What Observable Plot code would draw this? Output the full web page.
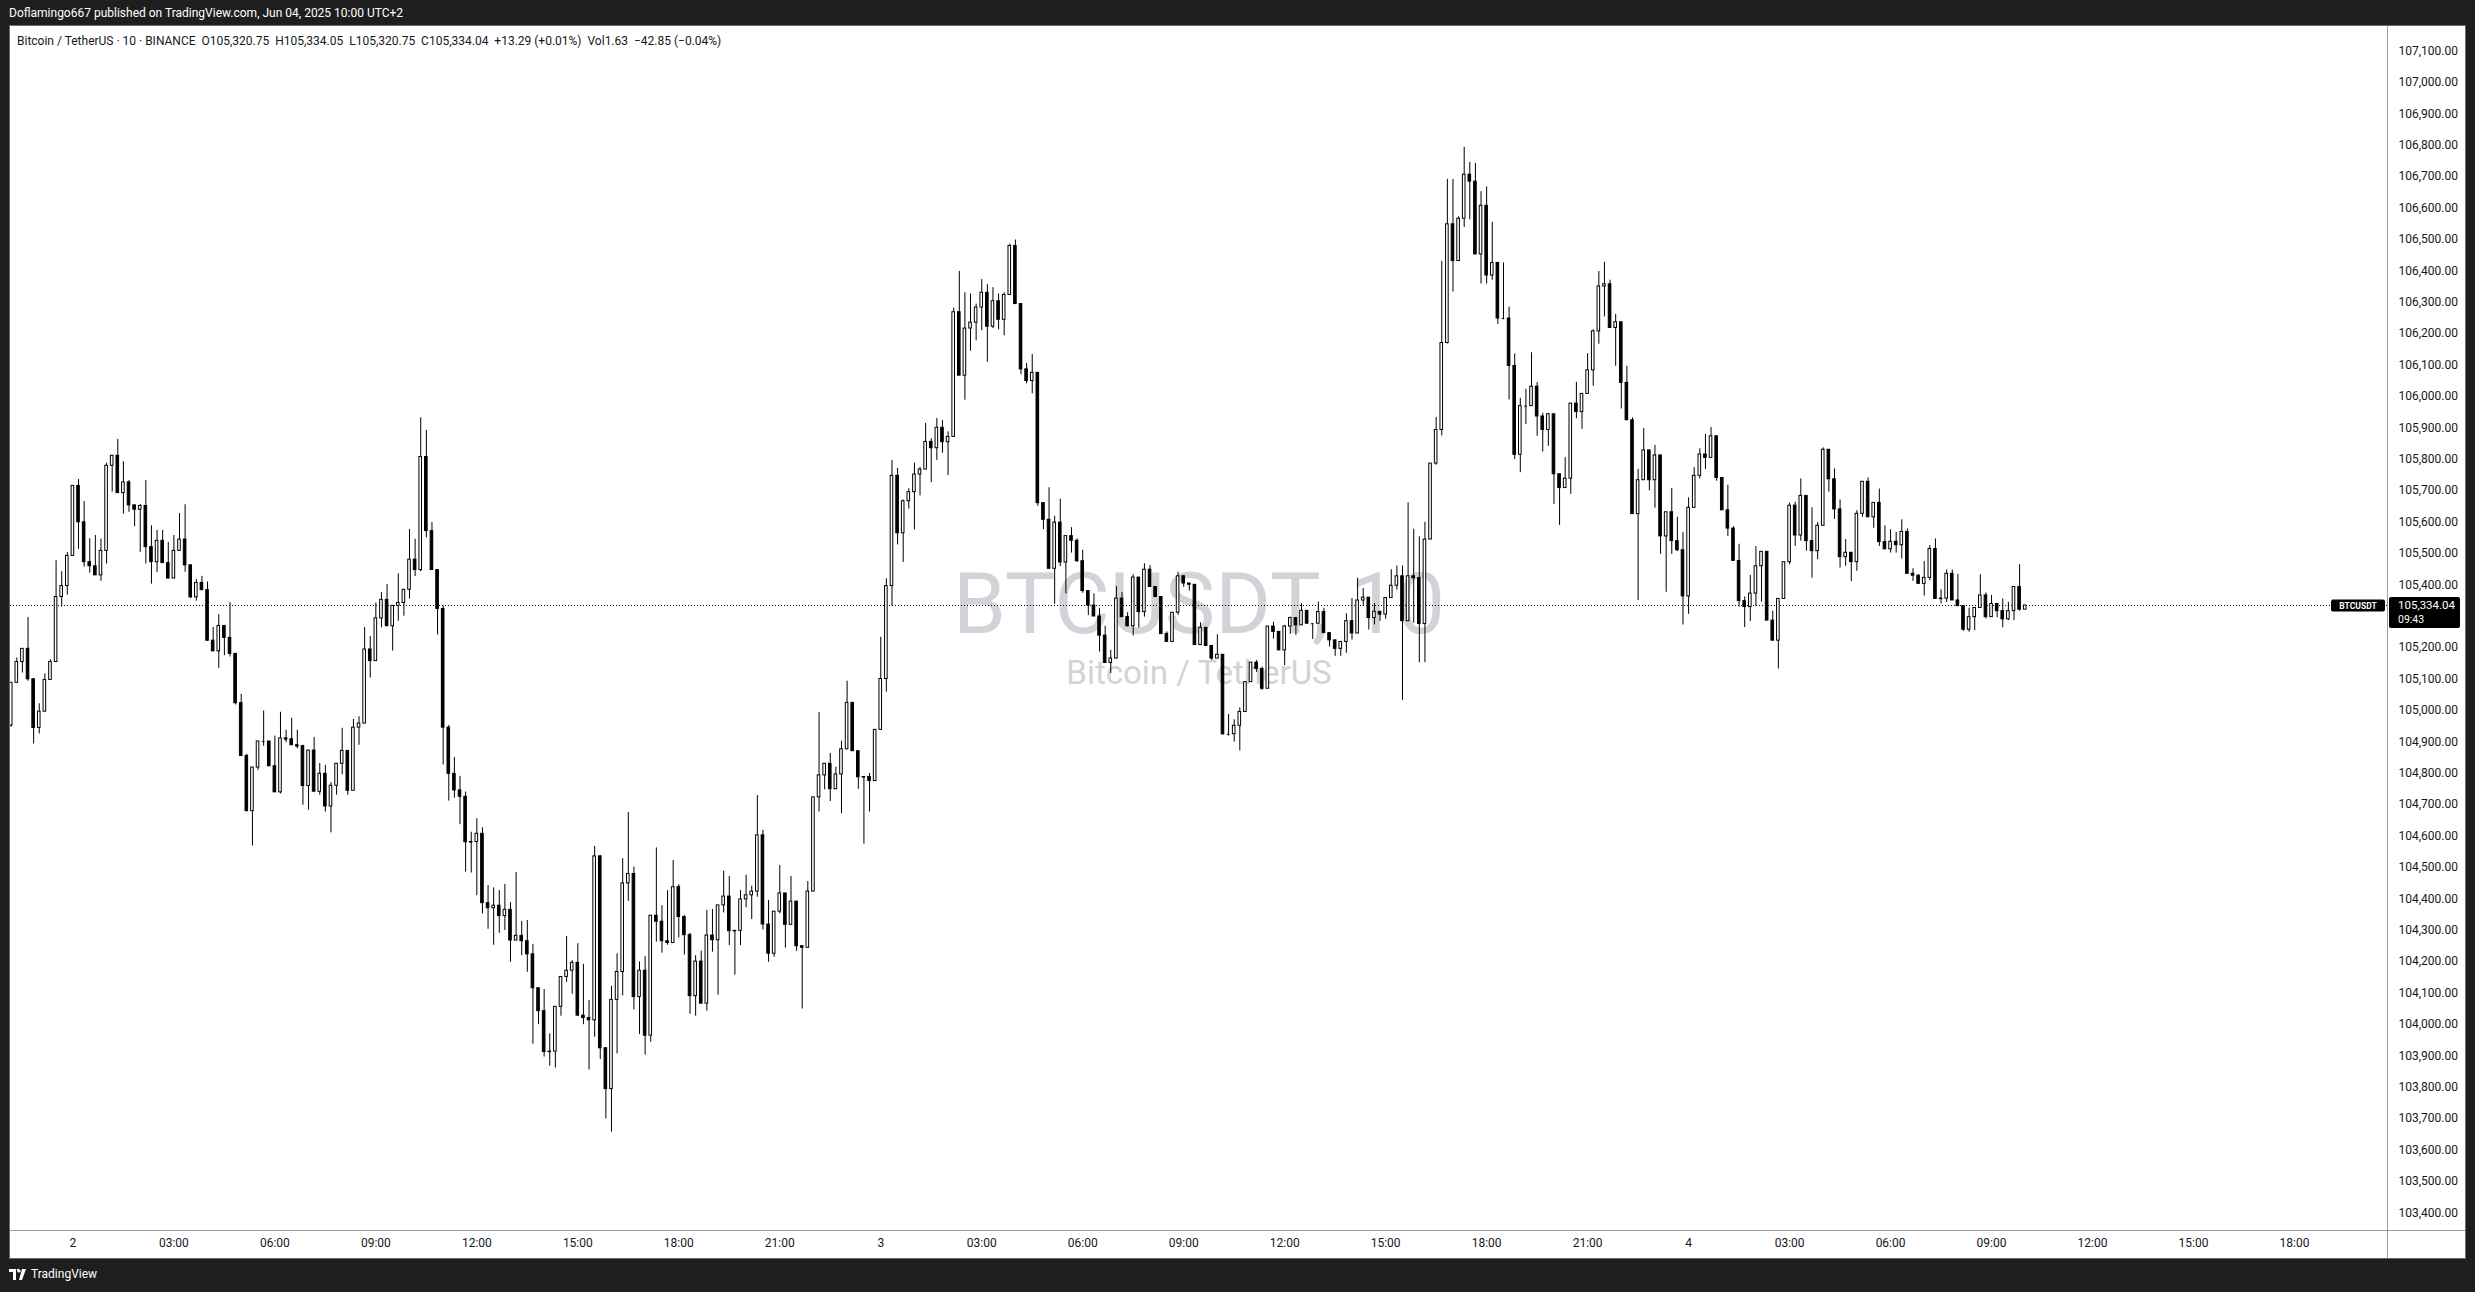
<!DOCTYPE html>
<html><head><meta charset="utf-8">
<script src="https://cdn.jsdelivr.net/npm/d3@7"></script>
<script src="https://cdn.jsdelivr.net/npm/@observablehq/plot@0.6"></script>
<style>
html,body{margin:0;padding:0;background:#1e1e1e;}
#page{position:relative;width:2475px;height:1292px;background:#1e1e1e;overflow:hidden;font-family:Roboto,"Liberation Sans",sans-serif;}
#top{position:absolute;left:9px;top:6px;color:#ffffff;font-size:12px;white-space:pre;}
#panel{position:absolute;left:10px;top:26px;width:2455px;height:1232px;background:#fff;outline:1px solid #6b6b6b;}
#legend{position:absolute;left:7px;top:8px;color:#131722;font-size:12px;white-space:pre;z-index:2;}
#foot{position:absolute;left:9px;top:1267px;color:#fff;font-size:12px;display:flex;align-items:center;gap:4px;}
</style></head>
<body>
<div id="page">
  <div id="top">Doflamingo667 published on TradingView.com, Jun 04, 2025 10:00 UTC+2</div>
  <div id="panel"><div id="legend">Bitcoin / TetherUS · 10 · BINANCE  O105,320.75  H105,334.05  L105,320.75  C105,334.04  +13.29 (+0.01%)  Vol1.63  −42.85 (−0.04%)</div></div>
  <div id="foot"><svg width="18" height="11" viewBox="0 0 18 11"><path d="M0 0h7v11H4V3H0z M7.5 0h3l-1.5 3z" fill="#fff"/><circle cx="10" cy="2" r="1.6" fill="#fff"/><path d="M13 0h4l-4 11h-3z" fill="#fff"/></svg><span>TradingView</span></div>
</div>
<script>
// ---- data (BTCUSDT 10-minute candles, first candle 2025-06-01 22:10 UTC+2) ----
const firstCandle = "2025-06-01T22:10:00Z";
const open = [
104952,105088,105154,105196,105099,104944,104996,105097,105154,105361,
105396,105492,105715,105599,105472,105459,105430,105508,105779,105811,
105692,105726,105653,105639,105651,105520,105472,105540,105469,105420,
105508,105544,105462,105360,105406,105383,105222,105188,105269,105231,
105180,105023,104855,104679,104818,104901,104901,104822,104739,104911,
104908,104889,104886,104759,104872,104741,104798,104694,104760,104830,
104871,104744,104945,104958,105194,105157,105293,105352,105268,105333,
105342,105384,105480,105447,105807,105571,105447,105323,104945,104798,
104745,104725,104580,104581,104607,104386,104370,104378,104345,104365,
104267,104282,104265,104223,104115,104042,103912,103913,104056,104151,
104171,104196,104028,104020,104013,104535,103924,103794,104078,104167,
104449,104479,104087,104171,103964,104346,104327,104265,104259,104437,
104342,104284,104090,104200,104066,104283,104268,104379,104407,104297,
104298,104398,104411,104423,104602,104318,104225,104359,104417,104317,
104391,104249,104244,104423,104723,104793,104830,104749,104796,104876,
105024,104870,104787,104788,104775,104938,105100,105396,105747,105564,
105666,105695,105751,105767,105855,105835,105900,105854,105871,106268,
106066,106216,106235,106283,106330,106222,106303,106244,106323,106479,
106294,106086,106049,106075,105660,105607,105451,105598,105471,105555,
105540,105475,105380,105334,105299,105238,105151,105165,105356,105297,
105268,105423,105313,105448,105393,105361,105243,105218,105311,105427,
105404,105400,105208,105263,105205,105165,105177,104924,104924,104951,
104995,105090,105152,105132,105069,105267,105250,105191,105267,105294,
105271,105317,105276,105276,105313,105246,105223,105196,105218,105284,
105245,105350,105359,105294,105314,105305,105358,105397,105427,105284,
105427,105421,105275,105544,105786,105893,106170,106548,106431,106566,
106706,106684,106452,106607,106385,106425,106248,106248,106097,105814,
105969,105969,106031,105936,105893,105943,105752,105708,105738,105977,
105950,106008,106083,106207,106350,106357,106218,106236,106043,105924,
105625,105733,105828,105733,105812,105554,105631,105539,105510,105363,
105645,105747,105815,105804,105873,105740,105637,105579,105476,105348,
105329,105372,105459,105505,105286,105222,105355,105472,105652,105557,
105683,105539,105507,105588,105830,105736,105640,105488,105502,105472,
105626,105728,105615,105661,105536,105513,105537,105526,105568,105435,
105429,105403,105422,105514,105355,105356,105435,105350,105332,105257,
105297,105326,105366,105297,105339,105316,105290,105316,105393,105320.75];
const high = [
105088,105167,105196,105296,105101,105021,105116,105161,105477,105442,
105503,105715,105735,105665,105547,105557,105545,105787,105811,105863,
105792,105732,105653,105656,105732,105588,105573,105573,105535,105557,
105627,105655,105462,105416,105427,105409,105264,105305,105269,105343,
105180,105051,104860,104818,104901,104998,104901,104918,104994,104937,
104975,104937,104889,104872,104914,104831,104825,104770,104830,104943,
104871,104971,104980,105264,105235,105342,105375,105401,105333,105435,
105384,105576,105545,105932,105892,105598,105447,105333,104952,104850,
104790,104740,104612,104655,104626,104442,104435,104426,104446,104388,
104484,104328,104331,104254,104116,104111,103970,104056,104151,104280,
104203,104257,104191,104076,104567,104538,103926,104121,104225,104528,
104675,104501,104199,104216,104346,104562,104378,104426,104522,104445,
104347,104290,104219,104233,104363,104366,104379,104488,104471,104298,
104426,104475,104440,104729,104618,104395,104359,104506,104417,104471,
104391,104249,104455,104723,104993,104830,104863,104819,104902,105093,
105024,104870,104788,104799,104938,105233,105419,105796,105771,105670,
105706,105787,105774,105914,105865,105930,105923,105887,106281,106398,
106330,106326,106294,106372,106356,106346,106326,106330,106485,106498,
106294,106105,106134,106075,105660,105709,105618,105673,105555,105582,
105546,105510,105380,105371,105325,105268,105191,105395,105375,105311,
105432,105423,105467,105461,105393,105361,105250,105311,105440,105430,
105404,105400,105279,105263,105205,105241,105177,104987,104970,105008,
105090,105152,105159,105138,105267,105281,105250,105271,105297,105294,
105340,105317,105276,105345,105325,105246,105224,105218,105308,105356,
105421,105388,105359,105340,105314,105358,105448,105460,105460,105661,
105577,105553,105599,105786,105933,106430,106691,106691,106572,106793,
106745,106742,106652,106667,106554,106425,106425,106284,106135,105994,
106023,106139,106044,105946,105946,105943,105752,105805,105977,106045,
106008,106136,106212,106398,106427,106370,106261,106236,106096,105932,
105768,105898,105828,105844,105812,105631,105707,105615,105566,105677,
105773,105833,105879,105901,105873,105740,105717,105585,105529,105361,
105430,105522,105505,105505,105316,105355,105472,105660,105663,105737,
105683,105645,105598,105836,105830,105769,105670,105544,105502,105636,
105728,105740,105661,105705,105588,105575,105567,105607,105578,105451,
105432,105474,105525,105546,105384,105447,105447,105433,105332,105326,
105326,105432,105374,105366,105339,105355,105344,105393,105464,105334.05];
const low = [
104946,105088,105119,105093,104893,104925,104996,105097,105154,105329,
105367,105492,105513,105456,105437,105430,105411,105466,105695,105692,
105625,105631,105585,105503,105466,105402,105439,105469,105418,105420,
105508,105440,105356,105348,105383,105220,105188,105134,105174,105170,
105017,104853,104679,104568,104809,104886,104822,104739,104734,104897,
104889,104878,104698,104682,104741,104730,104676,104610,104730,104795,
104730,104744,104889,104958,105103,105157,105263,105268,105189,105284,
105300,105355,105426,105442,105550,105447,105240,104826,104711,104720,
104636,104485,104482,104410,104352,104303,104252,104290,104299,104198,
104267,104219,104166,103937,103999,103896,103867,103861,104026,104134,
104096,104025,103999,103855,103959,103888,103699,103657,103906,104091,
104392,104046,103968,103902,103943,104262,104227,104252,104259,104275,
104221,104032,104026,104066,104042,104230,104093,104355,104251,104157,
104251,104371,104334,104405,104301,104198,104214,104352,104243,104317,
104233,104049,104244,104423,104676,104747,104710,104749,104671,104876,
104870,104749,104574,104676,104775,104938,105058,105331,105527,105471,
105641,105575,105683,105767,105725,105796,105819,105748,105871,106066,
105988,106144,106177,106209,106109,106216,106212,106193,106323,106294,
106069,106040,106008,105650,105576,105451,105338,105458,105371,105501,
105471,105373,105302,105299,105186,105151,105117,105165,105297,105266,
105237,105262,105297,105393,105361,105243,105218,105218,105303,105392,
105380,105208,105208,105205,105159,105165,104921,104918,104899,104871,
104995,105090,105121,105064,105069,105227,105191,105143,105242,105239,
105271,105276,105226,105276,105246,105202,105172,105172,105182,105224,
105245,105332,105256,105272,105284,105290,105358,105383,105032,105284,
105278,105152,105152,105544,105781,105874,106167,106332,106431,106538,
106562,106452,106358,106358,106370,106229,106244,105989,105799,105757,
105910,105969,105873,105823,105841,105656,105589,105708,105688,105929,
105895,106008,106032,106166,106253,106218,106096,105960,105924,105625,
105350,105733,105699,105644,105497,105376,105497,105506,105272,105306,
105645,105737,105767,105804,105730,105637,105554,105476,105329,105264,
105283,105331,105345,105286,105222,105132,105355,105464,105522,105539,
105507,105421,105480,105588,105695,105608,105453,105459,105410,105443,
105615,105615,105580,105522,105513,105501,105501,105482,105435,105411,
105403,105364,105413,105355,105339,105344,105350,105332,105252,105249,
105254,105326,105291,105297,105295,105263,105286,105286,105316,105320.75];
const close = [
105088,105154,105196,105099,104944,104996,105097,105154,105361,105396,
105492,105715,105599,105472,105459,105430,105508,105779,105811,105692,
105726,105653,105639,105651,105520,105472,105540,105469,105420,105508,
105544,105462,105360,105406,105383,105222,105188,105269,105231,105180,
105023,104855,104679,104818,104901,104901,104822,104739,104911,104908,
104889,104886,104759,104872,104741,104798,104694,104760,104830,104871,
104744,104945,104958,105194,105157,105293,105352,105268,105333,105342,
105384,105480,105447,105807,105571,105447,105323,104945,104798,104745,
104725,104580,104581,104607,104386,104370,104378,104345,104365,104267,
104282,104265,104223,104115,104042,103912,103913,104056,104151,104171,
104196,104028,104020,104013,104535,103924,103794,104078,104167,104449,
104479,104087,104171,103964,104346,104327,104265,104259,104437,104342,
104284,104090,104200,104066,104283,104268,104379,104407,104297,104298,
104398,104411,104423,104602,104318,104225,104359,104417,104317,104391,
104249,104244,104423,104723,104793,104830,104749,104796,104876,105024,
104870,104787,104788,104775,104938,105100,105396,105747,105564,105666,
105695,105751,105767,105855,105835,105900,105854,105871,106268,106066,
106216,106235,106283,106330,106222,106303,106244,106323,106479,106294,
106086,106049,106075,105660,105607,105451,105598,105471,105555,105540,
105475,105380,105334,105299,105238,105151,105165,105356,105297,105268,
105423,105313,105448,105393,105361,105243,105218,105311,105427,105404,
105400,105208,105263,105205,105165,105177,104924,104924,104951,104995,
105090,105152,105132,105069,105267,105250,105191,105267,105294,105271,
105317,105276,105276,105313,105246,105223,105196,105218,105284,105245,
105350,105359,105294,105314,105305,105358,105397,105427,105284,105427,
105421,105275,105544,105786,105893,106170,106548,106431,106566,106706,
106684,106452,106607,106385,106425,106248,106248,106097,105814,105969,
105969,106031,105936,105893,105943,105752,105708,105738,105977,105950,
106008,106083,106207,106350,106357,106218,106236,106043,105924,105625,
105733,105828,105733,105812,105554,105631,105539,105510,105363,105645,
105747,105815,105804,105873,105740,105637,105579,105476,105348,105329,
105372,105459,105505,105286,105222,105355,105472,105652,105557,105683,
105539,105507,105588,105830,105736,105640,105488,105502,105472,105626,
105728,105615,105661,105536,105513,105537,105526,105568,105435,105429,
105403,105422,105514,105355,105356,105435,105350,105332,105257,105297,
105326,105366,105297,105339,105316,105290,105316,105393,105320.75,105334.04];
const lastPrice = 105334.04;
const countdown = "09:43";
const symbolName = "BTCUSDT";
// 105,300.00 is hidden behind the last-price label in the reference
const priceTicks = [103400,103500,103600,103700,103800,103900,104000,104100,104200,104300,104400,104500,104600,104700,104800,104900,105000,105100,105200,105400,105500,105600,105700,105800,105900,106000,106100,106200,106300,106400,106500,106600,106700,106800,106900,107000,107100];
const timeTickLabels = ["2","03:00","06:00","09:00","12:00","15:00","18:00","21:00","3","03:00","06:00","09:00","12:00","15:00","18:00","21:00","4","03:00","06:00","09:00","12:00","15:00","18:00"];
const watermark = ["BTCUSDT, 10", "Bitcoin / TetherUS"];

// ---- build ----
const STEP = 10 * 60 * 1000;
const t0 = new Date(firstCandle).getTime();
const candles = open.map((o, i) => ({t: new Date(t0 + i * STEP), o, h: high[i], l: low[i], c: close[i]}));
const up = candles.filter(d => d.c >= d.o);
const down = candles.filter(d => d.c < d.o);
const doji = candles.filter(d => Math.abs(d.c - d.o) < 4);
const HW = 139000; // half body width in ms
const x1 = d => new Date(+d.t - HW), x2 = d => new Date(+d.t + HW);

const tickTimes = d3.utcHour.every(3).range(new Date("2025-06-02T00:00:00Z"), new Date("2025-06-04T18:00:01Z"));
const tickLabelMap = new Map(tickTimes.map((t, i) => [+t, timeTickLabels[i]]));

const W = 2455, H = 1232, MR = 78, MB = 28;
const plot = Plot.plot({
  width: W, height: H,
  marginLeft: 0, marginRight: MR, marginTop: 0, marginBottom: MB,
  style: {background: "transparent", fontFamily: "Roboto, 'Liberation Sans', sans-serif", fontSize: "12px"},
  x: {type: "utc", domain: [new Date("2025-06-01T22:08:45Z"), new Date("2025-06-04T20:45:48Z")]},
  y: {domain: [103343.6, 107178]},
  marks: [
    Plot.text([watermark[0]], {text: d => d, frameAnchor: "middle", dy: -23, fontSize: 85, fill: "#d1d3d8", fontFamily: "Roboto"}),
    Plot.text([watermark[1]], {text: d => d, frameAnchor: "middle", dy: 45, fontSize: 33, fill: "#d1d3d8", fontFamily: "Roboto"}),
    Plot.ruleY([lastPrice], {stroke: "#000", strokeWidth: 1, strokeDasharray: "1,2"}),
    Plot.ruleX(candles, {x: "t", y1: d => Math.min(d.l, d.o, d.c), y2: d => Math.max(d.h, d.o, d.c), stroke: "#000", strokeWidth: 1, clip: true}),
    Plot.rect(up, {x1, x2, y1: "o", y2: "c", fill: "#ffffff", stroke: "#000", strokeWidth: 1, clip: true}),
    Plot.rect(down, {x1, x2, y1: "o", y2: "c", fill: "#000000", stroke: "#000", strokeWidth: 1, clip: true}),
    Plot.ruleY(doji, {y: "c", x1, x2, stroke: "#000", strokeWidth: 1, clip: true}),
    Plot.axisY(priceTicks, {anchor: "right", tickSize: 0, tickPadding: 11, tickFormat: d3.format(",.2f"), label: null, color: "#131722", fontSize: 12}),
    Plot.axisX(tickTimes, {anchor: "bottom", tickSize: 0, tickPadding: 8, tickFormat: d => tickLabelMap.get(+d), label: null, color: "#131722", fontSize: 12})
  ]
});
document.getElementById("panel").appendChild(plot);

// frame lines of the price/time axes
const svg = d3.select(plot);
svg.append("line").attr("x1", 0).attr("x2", W).attr("y1", H - MB + 0.5).attr("y2", H - MB + 0.5).attr("stroke", "#9a9da6");
svg.append("line").attr("x1", W - MR + 0.5).attr("x2", W - MR + 0.5).attr("y1", 0).attr("y2", H).attr("stroke", "#9a9da6");

// last price labels (positioned through the plot's y scale)
const ys = plot.scale("y");
const yPx = ys.apply ? ys.apply(lastPrice) : d3.scaleLinear(ys.domain, ys.range)(lastPrice);
const g = svg.append("g").attr("font-family", "Roboto, sans-serif");
g.append("rect").attr("x", W - MR - 56).attr("y", yPx - 5.5).attr("width", 54).attr("height", 12).attr("rx", 2).attr("fill", "#000");
g.append("text").attr("x", W - MR - 29).attr("y", yPx + 0.5).attr("text-anchor", "middle").attr("dominant-baseline", "central")
  .attr("fill", "#fff").attr("font-size", 8.5).attr("font-weight", "bold").text(symbolName);
g.append("rect").attr("x", W - MR + 2).attr("y", yPx - 8).attr("width", 71).attr("height", 31).attr("rx", 2).attr("fill", "#000");
g.append("text").attr("x", W - MR + 11).attr("y", yPx).attr("text-anchor", "start").attr("dominant-baseline", "central").attr("fill", "#fff").attr("font-size", 11.5)
  .text(d3.format(",.2f")(lastPrice));
g.append("text").attr("x", W - MR + 11).attr("y", yPx + 14).attr("text-anchor", "start").attr("dominant-baseline", "central").attr("fill", "#fff").attr("font-size", 10.5)
  .text(countdown);
</script>
</body></html>
